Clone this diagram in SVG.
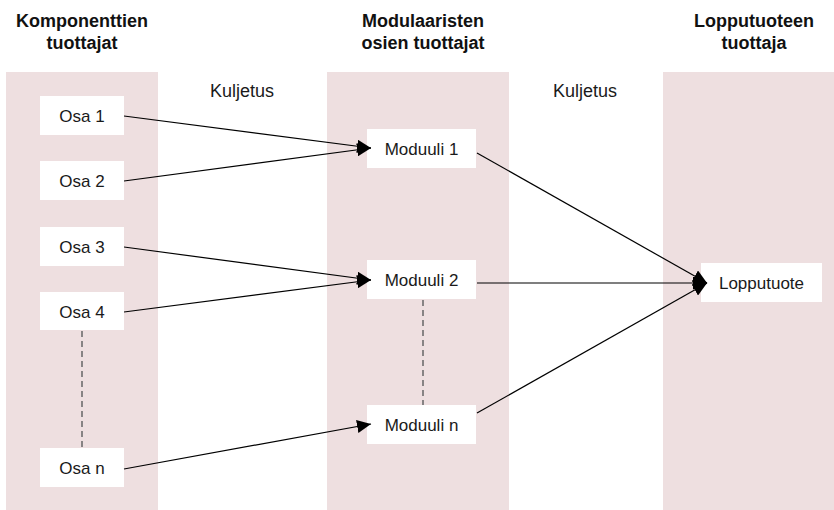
<svg xmlns="http://www.w3.org/2000/svg" width="834" height="510" viewBox="0 0 834 510">
  <style>
    .lane { fill: #eedfe0; }
    .box { fill: #ffffff; }
    .head { font-family: "Liberation Sans", Arial, sans-serif; font-size: 18px; font-weight: bold; fill: #111; text-anchor: middle; }
    .lbl { font-family: "Liberation Sans", Arial, sans-serif; font-size: 17px; fill: #1a1a1a; text-anchor: middle; }
    .transport { font-family: "Liberation Sans", Arial, sans-serif; font-size: 18px; fill: #1a1a1a; text-anchor: middle; }
    .flow { stroke: #000; stroke-width: 1.2; fill: none; marker-end: url(#arrow); }
    .dots { stroke: #666; stroke-width: 1.5; stroke-dasharray: 6 4; fill: none; }
  </style>
  <defs>
    <marker id="arrow" markerUnits="userSpaceOnUse" markerWidth="14" markerHeight="13" refX="14" refY="6.5" orient="auto">
      <path d="M0,0 L14,6.5 L0,13 z" fill="#000"/>
    </marker>
  </defs>

  <!-- lanes -->
  <rect class="lane" x="6" y="72" width="152" height="438"/>
  <rect class="lane" x="327" y="72" width="182" height="438"/>
  <rect class="lane" x="663" y="72" width="171" height="438"/>

  <!-- lane headings -->
  <text class="head" x="82" y="27">Komponenttien</text>
  <text class="head" x="82" y="49">tuottajat</text>
  <text class="head" x="423" y="27">Modulaaristen</text>
  <text class="head" x="423" y="49">osien tuottajat</text>
  <text class="head" x="754" y="27">Lopputuoteen</text>
  <text class="head" x="754" y="49">tuottaja</text>

  <text class="transport" x="242" y="97">Kuljetus</text>
  <text class="transport" x="585" y="97">Kuljetus</text>

  <!-- continuation markers -->
  <g id="ellipsis">
    <line class="dots" x1="82" y1="331" x2="82" y2="448"/>
    <line class="dots" x1="423" y1="300" x2="423" y2="405"/>
  </g>

  <!-- nodes -->
  <g id="osa1"><rect class="box" x="40" y="96" width="84" height="39"/><text class="lbl" x="82" y="122">Osa 1</text></g>
  <g id="osa2"><rect class="box" x="40" y="161" width="84" height="39"/><text class="lbl" x="82" y="187">Osa 2</text></g>
  <g id="osa3"><rect class="box" x="40" y="227" width="84" height="39"/><text class="lbl" x="82" y="253">Osa 3</text></g>
  <g id="osa4"><rect class="box" x="40" y="292" width="84" height="38"/><text class="lbl" x="82" y="318">Osa 4</text></g>
  <g id="osan"><rect class="box" x="40" y="448" width="84" height="39"/><text class="lbl" x="82" y="474">Osa n</text></g>

  <g id="moduuli1"><rect class="box" x="367" y="129" width="109" height="39"/><text class="lbl" x="421.5" y="155">Moduuli 1</text></g>
  <g id="moduuli2"><rect class="box" x="367" y="260" width="109" height="39"/><text class="lbl" x="421.5" y="286">Moduuli 2</text></g>
  <g id="moduulin"><rect class="box" x="367" y="405" width="109" height="39"/><text class="lbl" x="421.5" y="431">Moduuli n</text></g>

  <g id="lopputuote"><rect class="box" x="701" y="263" width="121" height="39"/><text class="lbl" x="761.5" y="289">Lopputuote</text></g>

  <!-- connectors -->
  <g id="connectors">
    <line class="flow" x1="124" y1="116" x2="371" y2="148"/>
    <line class="flow" x1="124" y1="181" x2="371" y2="148"/>
    <line class="flow" x1="124" y1="247" x2="371" y2="280"/>
    <line class="flow" x1="124" y1="312" x2="371" y2="280"/>
    <line class="flow" x1="124" y1="469" x2="371" y2="424"/>
    <line class="flow" x1="477" y1="153" x2="707" y2="283"/>
    <line class="flow" x1="477" y1="283" x2="707" y2="283"/>
    <line class="flow" x1="477" y1="413" x2="707" y2="283"/>
  </g>
</svg>
